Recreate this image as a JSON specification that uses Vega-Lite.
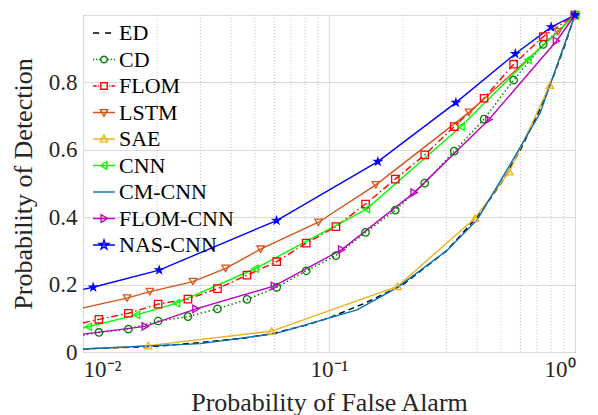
{
  "$schema": "https://vega.github.io/schema/vega-lite/v6.json",
  "width": 492,
  "height": 337,
  "autosize": {"type": "none"},
  "padding": {"left": 83, "top": 15, "right": 23, "bottom": 63},
  "background": "white",
  "config": {
    "font": "Liberation Serif",
    "view": {"stroke": "#262626", "strokeWidth": 1},
    "axis": {
      "labelFont": "Liberation Serif",
      "titleFont": "Liberation Serif",
      "labelFontSize": 23,
      "titleFontSize": 26,
      "titleFontWeight": "normal",
      "labelColor": "#262626",
      "titleColor": "#262626",
      "domain": false,
      "tickSize": 0,
      "gridColor": "#dcdcdc",
      "gridWidth": 1
    },
    "legend": {
      "labelFont": "Liberation Serif"
    }
  },
  "data": {
    "values": [
      {"series": "ED", "x": 0.01, "y": 0.009},
      {"series": "ED", "x": 0.02, "y": 0.017},
      {"series": "ED", "x": 0.03, "y": 0.028},
      {"series": "ED", "x": 0.045, "y": 0.041},
      {"series": "ED", "x": 0.06, "y": 0.056},
      {"series": "ED", "x": 0.08, "y": 0.079},
      {"series": "ED", "x": 0.1, "y": 0.101},
      {"series": "ED", "x": 0.14, "y": 0.145},
      {"series": "ED", "x": 0.2, "y": 0.2},
      {"series": "ED", "x": 0.3, "y": 0.3},
      {"series": "ED", "x": 0.4, "y": 0.4},
      {"series": "ED", "x": 0.5, "y": 0.5},
      {"series": "ED", "x": 0.6, "y": 0.6},
      {"series": "ED", "x": 0.7, "y": 0.7},
      {"series": "ED", "x": 0.8, "y": 0.8},
      {"series": "ED", "x": 0.9, "y": 0.9},
      {"series": "ED", "x": 1, "y": 1},
      {"series": "CD", "x": 0.01, "y": 0.05},
      {"series": "CD", "x": 0.0116, "y": 0.058},
      {"series": "CD", "x": 0.0153, "y": 0.068},
      {"series": "CD", "x": 0.0202, "y": 0.092},
      {"series": "CD", "x": 0.0267, "y": 0.105},
      {"series": "CD", "x": 0.0352, "y": 0.128},
      {"series": "CD", "x": 0.0464, "y": 0.156},
      {"series": "CD", "x": 0.0613, "y": 0.192},
      {"series": "CD", "x": 0.0808, "y": 0.241},
      {"series": "CD", "x": 0.1067, "y": 0.286},
      {"series": "CD", "x": 0.1408, "y": 0.355},
      {"series": "CD", "x": 0.186, "y": 0.421},
      {"series": "CD", "x": 0.245, "y": 0.501},
      {"series": "CD", "x": 0.323, "y": 0.596},
      {"series": "CD", "x": 0.427, "y": 0.691},
      {"series": "CD", "x": 0.563, "y": 0.807},
      {"series": "CD", "x": 0.743, "y": 0.913},
      {"series": "CD", "x": 1, "y": 1},
      {"series": "FLOM", "x": 0.01, "y": 0.086},
      {"series": "FLOM", "x": 0.0116, "y": 0.097},
      {"series": "FLOM", "x": 0.0153, "y": 0.115},
      {"series": "FLOM", "x": 0.0202, "y": 0.142},
      {"series": "FLOM", "x": 0.0267, "y": 0.157},
      {"series": "FLOM", "x": 0.0352, "y": 0.188},
      {"series": "FLOM", "x": 0.0464, "y": 0.228},
      {"series": "FLOM", "x": 0.0613, "y": 0.268},
      {"series": "FLOM", "x": 0.0808, "y": 0.323},
      {"series": "FLOM", "x": 0.1067, "y": 0.372},
      {"series": "FLOM", "x": 0.1408, "y": 0.439},
      {"series": "FLOM", "x": 0.186, "y": 0.513},
      {"series": "FLOM", "x": 0.245, "y": 0.585},
      {"series": "FLOM", "x": 0.323, "y": 0.669},
      {"series": "FLOM", "x": 0.427, "y": 0.753},
      {"series": "FLOM", "x": 0.563, "y": 0.854},
      {"series": "FLOM", "x": 0.743, "y": 0.936},
      {"series": "FLOM", "x": 1, "y": 1},
      {"series": "LSTM", "x": 0.01, "y": 0.131},
      {"series": "LSTM", "x": 0.0151, "y": 0.16},
      {"series": "LSTM", "x": 0.0187, "y": 0.179},
      {"series": "LSTM", "x": 0.028, "y": 0.209},
      {"series": "LSTM", "x": 0.038, "y": 0.248},
      {"series": "LSTM", "x": 0.0527, "y": 0.305},
      {"series": "LSTM", "x": 0.0906, "y": 0.385},
      {"series": "LSTM", "x": 0.155, "y": 0.496},
      {"series": "LSTM", "x": 0.371, "y": 0.711},
      {"series": "LSTM", "x": 0.853, "y": 0.95},
      {"series": "LSTM", "x": 1, "y": 1},
      {"series": "SAE", "x": 0.01, "y": 0.009},
      {"series": "SAE", "x": 0.0184, "y": 0.019},
      {"series": "SAE", "x": 0.0585, "y": 0.062},
      {"series": "SAE", "x": 0.19, "y": 0.195},
      {"series": "SAE", "x": 0.392, "y": 0.397},
      {"series": "SAE", "x": 0.541, "y": 0.535},
      {"series": "SAE", "x": 0.791, "y": 0.792},
      {"series": "SAE", "x": 1, "y": 1},
      {"series": "CNN", "x": 0.01, "y": 0.071},
      {"series": "CNN", "x": 0.0105, "y": 0.075},
      {"series": "CNN", "x": 0.0165, "y": 0.11},
      {"series": "CNN", "x": 0.024, "y": 0.145},
      {"series": "CNN", "x": 0.05, "y": 0.247},
      {"series": "CNN", "x": 0.142, "y": 0.424},
      {"series": "CNN", "x": 0.344, "y": 0.669},
      {"series": "CNN", "x": 0.644, "y": 0.867},
      {"series": "CNN", "x": 1, "y": 1},
      {"series": "CM-CNN", "x": 0.01, "y": 0.009},
      {"series": "CM-CNN", "x": 0.03, "y": 0.025},
      {"series": "CM-CNN", "x": 0.06, "y": 0.054},
      {"series": "CM-CNN", "x": 0.13, "y": 0.125},
      {"series": "CM-CNN", "x": 0.19, "y": 0.192},
      {"series": "CM-CNN", "x": 0.3, "y": 0.3},
      {"series": "CM-CNN", "x": 0.4, "y": 0.392},
      {"series": "CM-CNN", "x": 0.5, "y": 0.51},
      {"series": "CM-CNN", "x": 0.72, "y": 0.708},
      {"series": "CM-CNN", "x": 1, "y": 1},
      {"series": "FLOM-CNN", "x": 0.01, "y": 0.053},
      {"series": "FLOM-CNN", "x": 0.0179, "y": 0.076},
      {"series": "FLOM-CNN", "x": 0.0288, "y": 0.128},
      {"series": "FLOM-CNN", "x": 0.06, "y": 0.196},
      {"series": "FLOM-CNN", "x": 0.1127, "y": 0.304},
      {"series": "FLOM-CNN", "x": 0.222, "y": 0.473},
      {"series": "FLOM-CNN", "x": 0.447, "y": 0.69},
      {"series": "FLOM-CNN", "x": 0.841, "y": 0.923},
      {"series": "FLOM-CNN", "x": 1, "y": 1},
      {"series": "NAS-CNN", "x": 0.01, "y": 0.186},
      {"series": "NAS-CNN", "x": 0.011, "y": 0.192},
      {"series": "NAS-CNN", "x": 0.0204, "y": 0.243},
      {"series": "NAS-CNN", "x": 0.0612, "y": 0.39},
      {"series": "NAS-CNN", "x": 0.158, "y": 0.565},
      {"series": "NAS-CNN", "x": 0.328, "y": 0.74},
      {"series": "NAS-CNN", "x": 0.572, "y": 0.885},
      {"series": "NAS-CNN", "x": 0.8, "y": 0.964},
      {"series": "NAS-CNN", "x": 1, "y": 1}
    ]
  },
  "encoding": {
    "x": {
      "field": "x",
      "type": "quantitative",
      "scale": {"type": "log", "domain": [0.01, 1], "nice": false},
      "axis": {
        "values": [0.01, 0.1, 1],
        "labelExpr": "datum.value < 0.05 ? '10⁻²' : datum.value < 0.5 ? '10⁻¹' : '10⁰'",
        "labelPadding": 6,
        "title": "Probability of False Alarm",
        "titlePadding": 8,
        "grid": true
      }
    }
  },
  "layer": [
    {
      "data": {"values": [
        {"x": 0.02}, {"x": 0.03}, {"x": 0.04}, {"x": 0.05}, {"x": 0.06}, {"x": 0.07}, {"x": 0.08}, {"x": 0.09},
        {"x": 0.2}, {"x": 0.3}, {"x": 0.4}, {"x": 0.5}, {"x": 0.6}, {"x": 0.7}, {"x": 0.8}, {"x": 0.9}
      ]},
      "mark": {"type": "rule", "strokeDash": [1, 2], "color": "#c4c4c4", "strokeWidth": 1},
      "encoding": {}
    },
    {
      "transform": [{"filter": "datum.series == 'ED'"}],
      "mark": {"type": "line", "strokeWidth": 1.4, "strokeDash": [6, 4], "color": "#000000"},
      "encoding": {
        "y": {
          "field": "y", "type": "quantitative",
          "scale": {"domain": [0, 1], "nice": false},
          "axis": {
            "values": [0, 0.2, 0.4, 0.6, 0.8, 1],
            "format": "~g",
            "labelExpr": "datum.value == 1 ? '' : datum.label",
            "labelPadding": 6,
            "title": "Probability of Detection",
            "titlePadding": 12,
            "grid": true
          }
        }
      }
    },
    {
      "transform": [{"filter": "datum.series == 'CD'"}],
      "mark": {"type": "line", "strokeWidth": 1.5, "strokeDash": [1.5, 2.5], "color": "#008000"},
      "encoding": {"y": {"field": "y", "type": "quantitative"}}
    },
    {
      "transform": [{"filter": "datum.series == 'FLOM'"}],
      "mark": {"type": "line", "strokeWidth": 1.4, "strokeDash": [7, 3, 1.5, 3], "color": "#FF0000"},
      "encoding": {"y": {"field": "y", "type": "quantitative"}}
    },
    {
      "transform": [{"filter": "datum.series == 'LSTM'"}],
      "mark": {"type": "line", "strokeWidth": 1.4, "color": "#D95319"},
      "encoding": {"y": {"field": "y", "type": "quantitative"}}
    },
    {
      "transform": [{"filter": "datum.series == 'SAE'"}],
      "mark": {"type": "line", "strokeWidth": 1.4, "color": "#EDB120"},
      "encoding": {"y": {"field": "y", "type": "quantitative"}}
    },
    {
      "transform": [{"filter": "datum.series == 'CNN'"}],
      "mark": {"type": "line", "strokeWidth": 1.4, "color": "#00FF00"},
      "encoding": {"y": {"field": "y", "type": "quantitative"}}
    },
    {
      "transform": [{"filter": "datum.series == 'CM-CNN'"}],
      "mark": {"type": "line", "strokeWidth": 1.4, "color": "#0072BD"},
      "encoding": {"y": {"field": "y", "type": "quantitative"}}
    },
    {
      "transform": [{"filter": "datum.series == 'FLOM-CNN'"}],
      "mark": {"type": "line", "strokeWidth": 1.4, "color": "#C000C0"},
      "encoding": {"y": {"field": "y", "type": "quantitative"}}
    },
    {
      "transform": [{"filter": "datum.series == 'NAS-CNN'"}],
      "mark": {"type": "line", "strokeWidth": 1.4, "color": "#0000FF"},
      "encoding": {"y": {"field": "y", "type": "quantitative"}}
    },
    {
      "transform": [
        {"filter": "datum.x > 0.0101 && datum.series != 'ED' && datum.series != 'CM-CNN'"}
      ],
      "mark": {"type": "point", "strokeWidth": 1.3, "size": 55, "opacity": 1},
      "encoding": {
        "y": {"field": "y", "type": "quantitative"},
        "color": {
          "field": "series", "type": "nominal",
          "scale": {
            "domain": ["ED", "CD", "FLOM", "LSTM", "SAE", "CNN", "CM-CNN", "FLOM-CNN", "NAS-CNN"],
            "range": ["#000000", "#008000", "#FF0000", "#D95319", "#EDB120", "#00FF00", "#0072BD", "#C000C0", "#0000FF"]
          },
          "legend": null
        },
        "fill": {
          "field": "series", "type": "nominal",
          "scale": {
            "domain": ["CD", "FLOM", "LSTM", "SAE", "CNN", "FLOM-CNN", "NAS-CNN"],
            "range": ["transparent", "transparent", "transparent", "transparent", "transparent", "transparent", "#0000FF"]
          },
          "legend": null
        },
        "shape": {
          "field": "series", "type": "nominal",
          "scale": {
            "domain": ["CD", "FLOM", "LSTM", "SAE", "CNN", "FLOM-CNN", "NAS-CNN"],
            "range": ["circle", "square", "triangle-down", "triangle-up", "triangle-left", "triangle-right",
              "M0,-1L0.225,-0.309L0.951,-0.309L0.363,0.118L0.588,0.809L0,0.382L-0.588,0.809L-0.363,0.118L-0.951,-0.309L-0.225,-0.309Z"]
          },
          "legend": null
        }
      }
    },
    {
      "mark": {"type": "point", "filled": false, "opacity": 0},
      "encoding": {
        "y": {"field": "y", "type": "quantitative"},
        "color": {
          "field": "series", "type": "nominal",
          "scale": {
            "domain": ["ED", "CD", "FLOM", "LSTM", "SAE", "CNN", "CM-CNN", "FLOM-CNN", "NAS-CNN"],
            "range": ["#000000", "#008000", "#FF0000", "#D95319", "#EDB120", "#00FF00", "#0072BD", "#C000C0", "#0000FF"]
          },
          "legend": {
            "orient": "none",
            "legendX": 9,
            "legendY": 6,
            "title": null,
            "padding": 0,
            "labelFont": "Liberation Serif",
            "labelFontSize": 22,
            "labelColor": "#000000",
            "labelOffset": 3,
            "symbolSize": 484,
            "symbolStrokeWidth": 1.4,
            "symbolOpacity": 1,
            "rowPadding": 3.5
          }
        },
        "shape": {
          "field": "series", "type": "nominal",
          "scale": {
            "domain": ["ED", "CD", "FLOM", "LSTM", "SAE", "CNN", "CM-CNN", "FLOM-CNN", "NAS-CNN"],
            "range": [
              "M-1,0H-0.45M0.1,0H0.65",
              "M-1,0H-0.88M-0.72,0H-0.6M-0.44,0H-0.32M0.32,0H0.44M0.6,0H0.72M0.88,0H1M0.3,0L0.26,0.15L0.15,0.26L0,0.3L-0.15,0.26L-0.26,0.15L-0.3,0L-0.26,-0.15L-0.15,-0.26L0,-0.3L0.15,-0.26L0.26,-0.15Z",
              "M-1,0H-0.66M-0.54,0H-0.44M0.44,0H0.54M0.66,0H1M-0.29,-0.29H0.29V0.29H-0.29Z",
              "M-1,0H1M-0.34,-0.26L0.34,-0.26L0,0.34Z",
              "M-1,0H1M-0.34,0.26L0.34,0.26L0,-0.34Z",
              "M-1,0H1M-0.34,0L0.26,-0.34L0.26,0.34Z",
              "M-1,0H1",
              "M-1,0H1M0.34,0L-0.26,-0.34L-0.26,0.34Z",
              "M-1,0H1M0,-0.45L0.1,-0.14L0.43,-0.14L0.16,0.05L0.26,0.36L0,0.17L-0.26,0.36L-0.16,0.05L-0.43,-0.14L-0.1,-0.14Z"
            ]
          },
          "legend": {
            "orient": "none",
            "legendX": 9,
            "legendY": 6,
            "title": null,
            "padding": 0,
            "labelFont": "Liberation Serif",
            "labelFontSize": 22,
            "labelColor": "#000000",
            "labelOffset": 3,
            "symbolSize": 484,
            "symbolStrokeWidth": 1.4,
            "symbolOpacity": 1,
            "rowPadding": 3.5
          }
        }
      }
    }
  ],
  "resolve": {"scale": {"shape": "independent", "color": "independent"}}
}
